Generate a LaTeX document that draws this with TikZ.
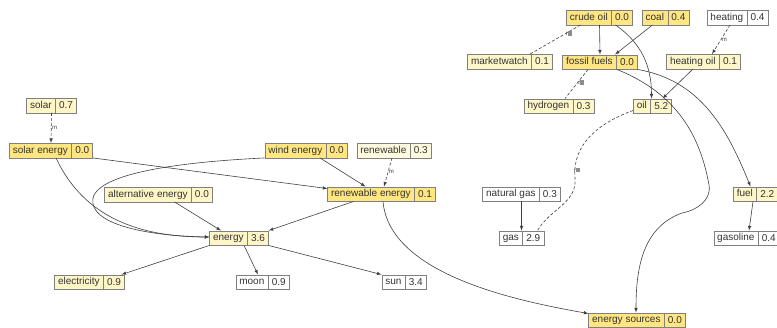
\documentclass[tikz,border=0pt]{standalone}
\usepackage{fontspec}
\setmainfont{Liberation Sans}
\usetikzlibrary{shapes}

\definecolor{hotFill}{HTML}{FFE680}
\definecolor{warmFill}{HTML}{FFF6C8}
\definecolor{mildFill}{HTML}{FFFADE}
\newcommand{\rglyph}{r\textcolor{black!45}{\rule{4pt}{4.5pt}}}

\begin{document}
\begin{tikzpicture}[>=latex, x=1pt, y=-1pt]

    %
    % Styles for terms, and relation edges
    %
    \tikzstyle{term} = [draw=black!50, rectangle split, rectangle split horizontal, rectangle split parts=2,
                        inner xsep=3.5pt, inner ysep=2pt, text height=8pt, text depth=2.5pt,
                        font=\fontsize{10}{12}\selectfont, text=black!80]
    \tikzstyle{hot} = [rectangle split part fill={hotFill}];
    \tikzstyle{warm} = [rectangle split part fill={warmFill}];
    \tikzstyle{mild} = [rectangle split part fill={mildFill}];
    \tikzstyle{cold} = [rectangle split part fill={white}];
    \tikzstyle{edgePortion} = [black!75, line width=0.6pt];
    \tikzstyle{relation} = [edgePortion,->];
    \tikzstyle{link} = [edgePortion, dash pattern=on 3pt off 2pt];
    \tikzstyle{linkLabel} = [inner sep=0.5pt, font={\fontsize{6}{7}\selectfont}, text=black!75];

    \useasboundingbox (0,0) rectangle (777,327);

    %
    % Position terms
    %
    \node[term, hot, name=crudeoil] at (599.5,17.5) {crude oil\nodepart{two}0.0};
    \node[term, hot, name=coal] at (665.5,17.5) {coal\nodepart{two}0.4};
    \node[term, cold, name=heating] at (737.5,17.5) {heating\nodepart{two}0.4};
    \node[term, warm, name=marketwatch] at (510,61.5) {marketwatch\nodepart{two}0.1};
    \node[term, hot, name=fossilfuels] at (600,62) {fossil fuels\nodepart{two}0.0};
    \node[term, warm, name=heatingoil] at (703.5,61.5) {heating oil\nodepart{two}0.1};
    \node[term, warm, name=hydrogen] at (559,106) {hydrogen\nodepart{two}0.3};
    \node[term, warm, name=oil] at (652.5,106) {oil\nodepart{two}5.2};
    \node[term, cold, name=naturalgas] at (521.5,194) {natural gas\nodepart{two}0.3};
    \node[term, cold, name=gas] at (521.5,238) {gas\nodepart{two}2.9};
    \node[term, warm, name=fuel] at (755.5,194) {fuel\nodepart{two}2.2};
    \node[term, cold, name=gasoline] at (746.5,238) {gasoline\nodepart{two}0.4};
    \node[term, hot, name=energysources] at (637,320) {energy sources\nodepart{two}0.0};

    \node[term, warm, name=solar] at (51.5,105.5) {solar\nodepart{two}0.7};
    \node[term, hot, name=solarenergy] at (51,150.5) {solar energy\nodepart{two}0.0};
    \node[term, hot, name=windenergy] at (306,150.5) {wind energy\nodepart{two}0.0};
    \node[term, mild, name=renewable] at (394,150.5) {renewable\nodepart{two}0.3};
    \node[term, warm, name=alternativeenergy] at (158.5,194.5) {alternative energy\nodepart{two}0.0};
    \node[term, hot, name=renewableenergy] at (381.5,194) {renewable energy\nodepart{two}0.1};
    \node[term, warm, name=energy] at (239,238) {energy\nodepart{two}3.6};
    \node[term, warm, name=electricity] at (89.5,282) {electricity\nodepart{two}0.9};
    \node[term, cold, name=moon] at (262.5,282) {moon\nodepart{two}0.9};
    \node[term, cold, name=sun] at (404,282) {sun\nodepart{two}3.4};

    %
    % Connect terms via edges
    %
    \draw[relation] (crudeoil.south) -- (fossilfuels.north);
    \draw[relation] ([xshift=-13pt]coal.south) -- ([xshift=15pt]fossilfuels.north);
    \draw[relation] ([xshift=16pt]crudeoil.south) to[out=-35,in=90] ([xshift=-1pt]oil.north);
    \draw[link] ([xshift=-19pt]crudeoil.south)
      -- node[linkLabel, pos=0.3, right]{\rglyph}
      ([xshift=20pt]marketwatch.north);
    \draw[link] ([xshift=-12pt]fossilfuels.south)
      -- node[linkLabel, pos=0.45, right]{\rglyph}
      ([xshift=6pt]hydrogen.north);
    \draw[link, ->] ([xshift=-7.5pt]heating.south)
      -- node[linkLabel, pos=0.5, right]{m}
      ([xshift=8.5pt]heatingoil.north);
    \draw[relation] ([xshift=-10.5pt]heatingoil.south) -- ([xshift=10pt]oil.north);
    \draw[relation] (fossilfuels.south east) to[out=-10,in=112] ([xshift=-5pt]fuel.north);
    \draw[relation] ([xshift=17pt]fossilfuels.south)
      to[out=-22,in=100] (709,185)
      to[out=-80,in=10] (682,213)
      to[out=200,in=90] ([xshift=-1pt]energysources.north);
    \draw[link] ([yshift=3pt]oil.south west)
      to[out=200,in=95] node[linkLabel, pos=0.92, xshift=2pt]{\rglyph} (575,178)
      to[out=-85,in=60] ([xshift=16pt]gas.north);
    \draw[relation] (naturalgas.south) -- (gas.north);
    \draw[relation] ([xshift=-2.5pt]fuel.south) -- ([xshift=2.5pt]gasoline.north);

    \draw[link, ->] (solar.south)
      -- node[linkLabel, pos=0.5, right]{m}
      (solarenergy.north);
    \draw[link, ->] ([xshift=-2pt]renewable.south)
      -- node[linkLabel, pos=0.5, right]{m}
      ([xshift=2.5pt]renewableenergy.north);
    \draw[relation] (solarenergy.south east) -- ([yshift=-2pt]renewableenergy.north west);
    \draw[relation] ([xshift=14pt]windenergy.south) -- ([xshift=-16pt]renewableenergy.north);
    \draw[relation] ([xshift=5pt]solarenergy.south) to[out=-65,in=180] ([yshift=1pt]energy.west);
    \draw[relation] (windenergy.south west)
      .. controls (200,161) and (100,170) .. (93,198)
      .. controls (88,225) and (150,236) .. ([yshift=1pt]energy.west);
    \draw[relation] ([xshift=16pt]alternativeenergy.south) -- ([xshift=-18pt]energy.north);
    \draw[relation] ([xshift=-28pt]renewableenergy.south) -- (energy.north east);
    \draw[relation] ([xshift=1.5pt]renewableenergy.south)
      to[out=-85,in=170,looseness=0.8] ([yshift=-1pt]energysources.north west);

    \draw[relation] (energy.south west) -- ([xshift=32pt]electricity.north);
    \draw[relation] ([xshift=5pt]energy.south) -- ([xshift=-4.5pt]moon.north);
    \draw[relation] (energy.south east) -- (sun.north west);
  \end{tikzpicture}
\end{document}
